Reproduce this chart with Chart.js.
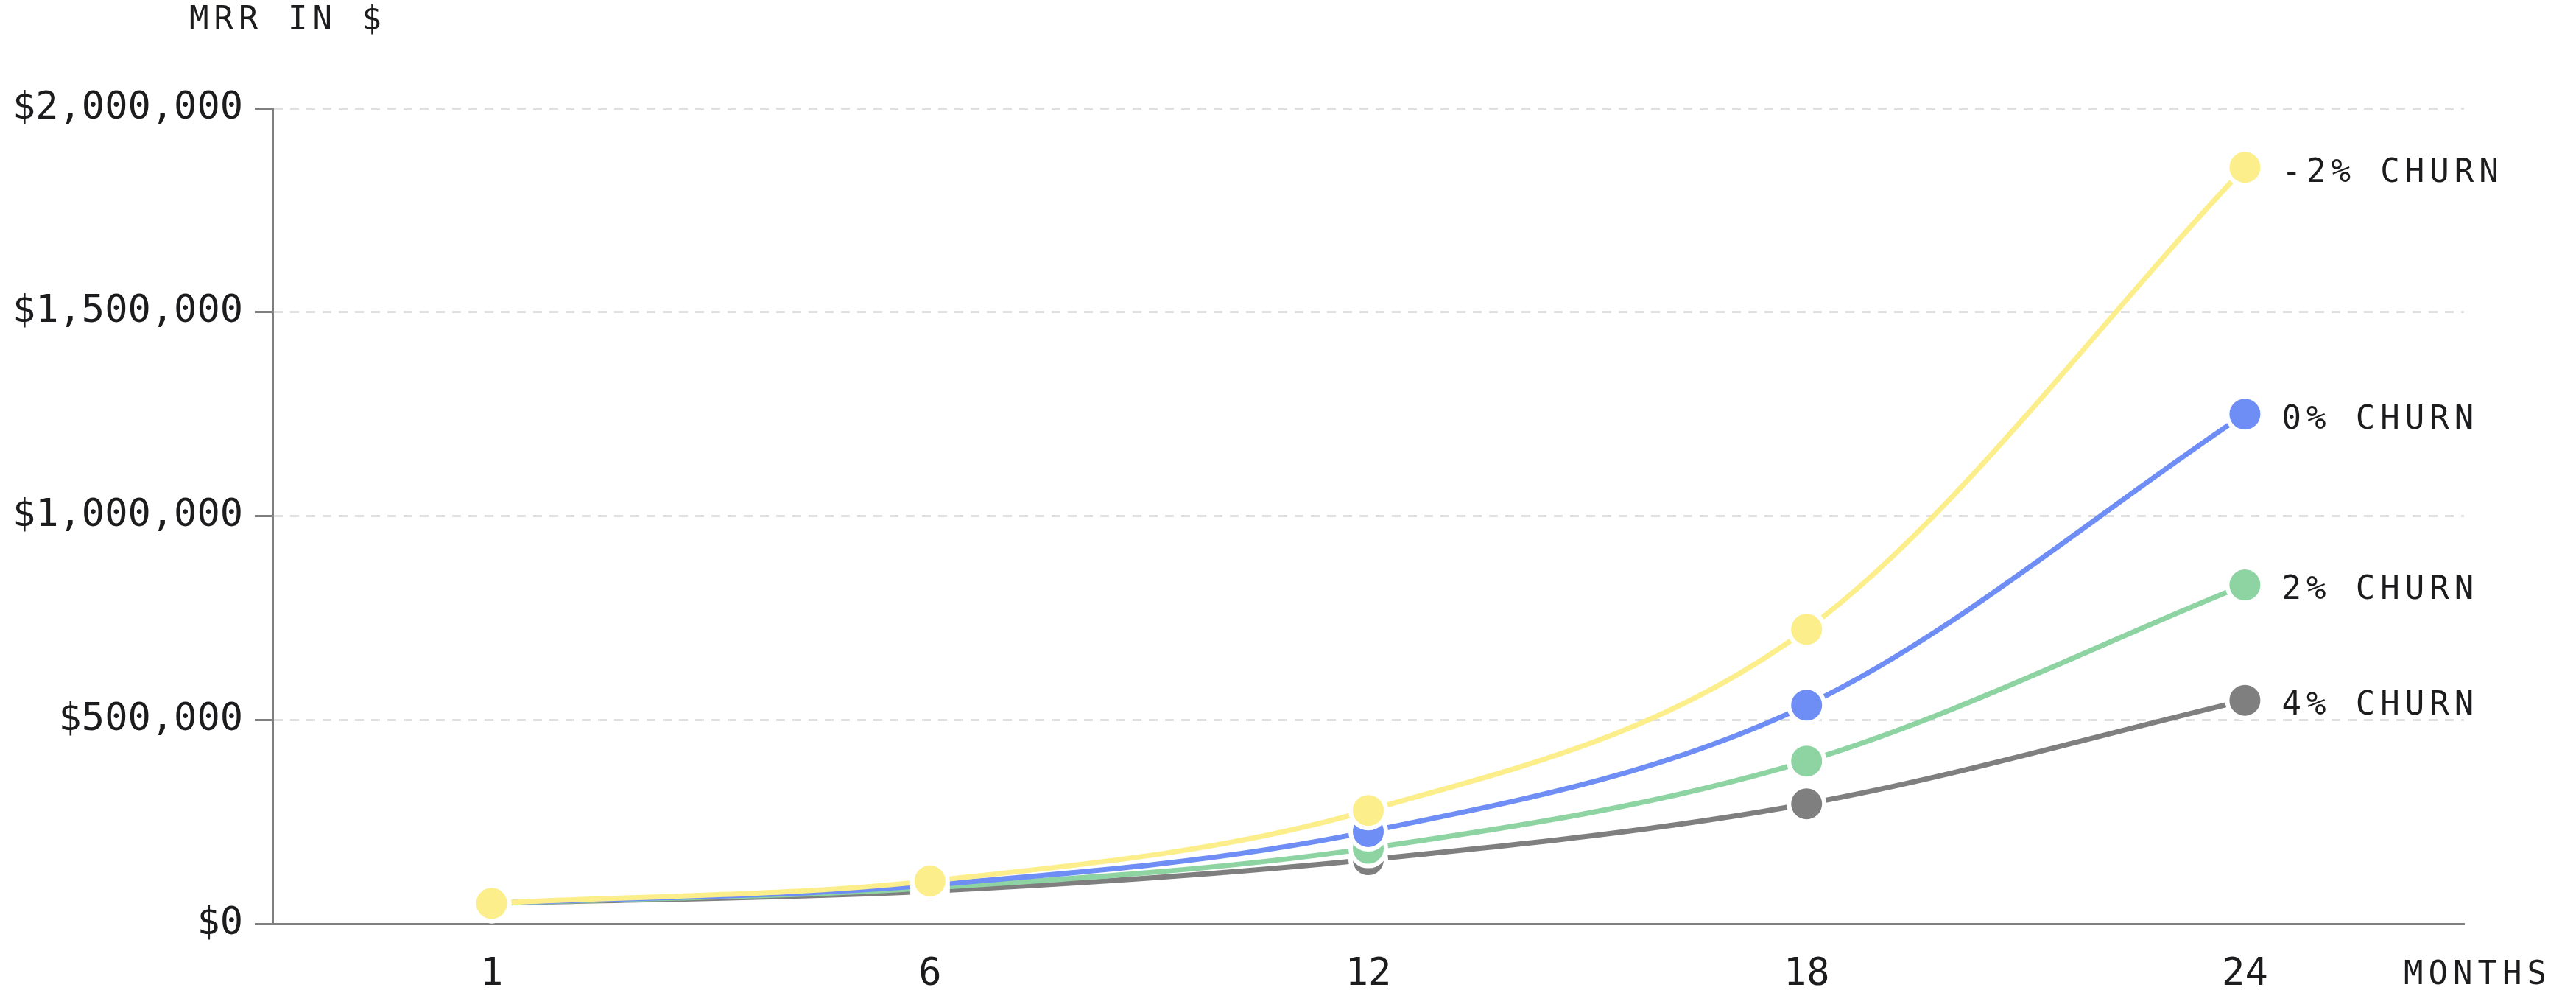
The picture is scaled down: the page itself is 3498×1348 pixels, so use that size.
<!DOCTYPE html>
<html>
<head>
<meta charset="utf-8">
<script src="https://cdn.jsdelivr.net/npm/chart.js@4"></script>
<style>
  html, body { margin: 0; padding: 0; background: #fff; }
  #wrap { width: 3498px; height: 1348px; position: relative; }
</style>
</head>
<body>
<div id="wrap"><canvas id="mrr_chart"></canvas></div>
<script>
// data
const months = ['1', '6', '12', '18', '24'];
const seriesNames = ['-2% CHURN', '0% CHURN', '2% CHURN', '4% CHURN'];
const churnMinus2 = [50000, 105000, 278000, 722000, 1855000];
const churn0 = [50000, 95000, 226000, 536000, 1250000];
const churn2 = [50000, 88000, 185000, 399000, 831000];
const churn4 = [50000, 80000, 157000, 294000, 548000];
const yTicks = [0, 500000, 1000000, 1500000, 2000000];
const yTitle = 'MRR IN $';
const xTitle = 'MONTHS';

const colors = ['#fcee8a', '#6f8ef5', '#8dd4a2', '#7f7f7f'];
const textColor = '#1c1c1e';
const axisColor = '#7f7f7f';
const monoFont = '"DejaVu Sans Mono", "Liberation Mono", monospace';

const ctx = document.getElementById('mrr_chart').getContext('2d');

// titles + end-of-line labels
const extraText = {
  id: 'extraText',
  afterDraw(chart) {
    const c = chart.ctx;
    c.save();
    c.fillStyle = textColor;
    c.font = '44px ' + monoFont;
    if ('letterSpacing' in c) c.letterSpacing = '7px';
    c.textBaseline = 'middle';
    c.textAlign = 'left';
    c.fillText(yTitle, 257, 29);
    c.fillText(xTitle, 3264, 1325);
    chart.data.datasets.forEach((ds, i) => {
      const meta = chart.getDatasetMeta(i);
      const pt = meta.data[meta.data.length - 1];
      c.fillText(seriesNames[i], pt.x + 50, pt.y + 8);
    });
    c.restore();
  }
};

const allData = [churnMinus2, churn0, churn2, churn4];

new Chart(ctx, {
  type: 'line',
  data: {
    labels: months,
    datasets: allData.map((d, i) => ({
      label: seriesNames[i],
      data: d,
      borderColor: colors[i],
      backgroundColor: colors[i],
      borderWidth: 7,
      cubicInterpolationMode: 'monotone',
      fill: false,
      pointRadius: 24,
      pointBorderWidth: 6,
      pointBorderColor: '#fff',
      pointBackgroundColor: colors[i]
    }))
  },
  options: {
    responsive: true,
    maintainAspectRatio: false,
    animation: false,
    layout: { padding: { top: 147, right: 152, left: 0, bottom: 0 } },
    plugins: { legend: { display: false }, tooltip: { enabled: false } },
    scales: {
      x: {
        offset: true,
        grid: { display: false, drawTicks: false },
        border: { display: true, color: axisColor, width: 3 },
        ticks: { color: textColor, font: { family: monoFont, size: 52 }, padding: 38 },
        afterFit(scale) { scale.height = 94; }
      },
      y: {
        min: 0,
        max: 2000000,
        afterBuildTicks(scale) { scale.ticks = yTicks.map(v => ({ value: v })); },
        grid: {
          color: '#e0e0e0',
          lineWidth: 3,
          tickColor: axisColor,
          tickWidth: 3,
          tickLength: 24,
          tickBorderDash: []
        },
        border: { display: true, color: axisColor, width: 3, dash: [12, 10] },
        ticks: {
          color: textColor,
          font: { family: monoFont, size: 52 },
          padding: 16,
          callback: v => '$' + Number(v).toLocaleString('en-US')
        },
        afterFit(scale) { scale.width = 370; }
      }
    }
  },
  plugins: [extraText]
});
</script>
</body>
</html>
